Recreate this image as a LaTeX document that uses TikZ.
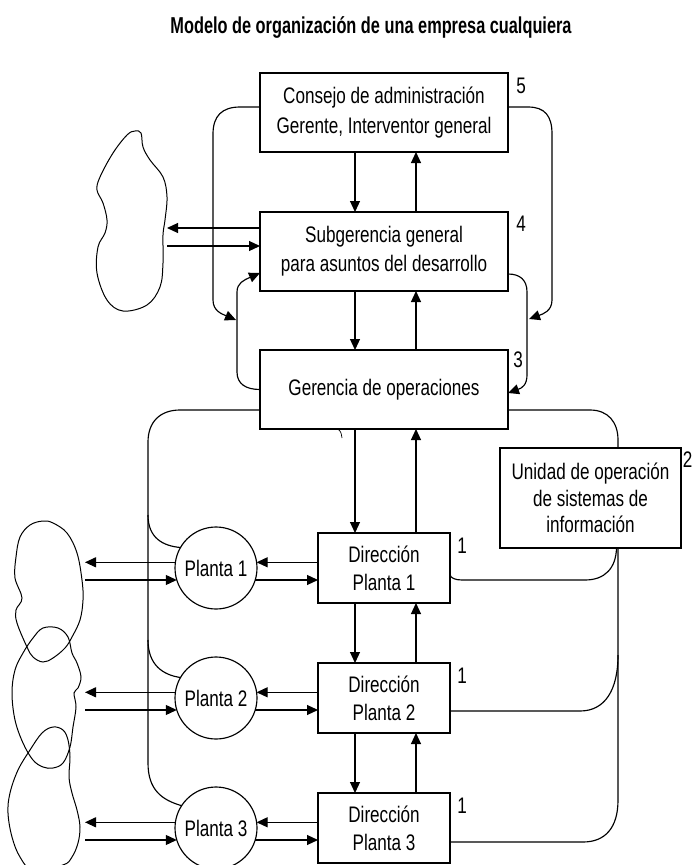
\documentclass[tikz,border=0pt]{standalone}
\usepackage{fontspec}
\setmainfont{Liberation Sans}[FakeStretch=0.76]
\newfontfamily\titlefont{Liberation Sans}[FakeStretch=0.71]
\usetikzlibrary{arrows.meta}
\begin{document}
\begin{tikzpicture}[x=1pt,y=-1pt,line width=1.15pt,
  box/.style={draw,line width=1.15pt,align=center,inner sep=0pt,outer sep=0pt,
    font=\fontsize{22.5}{29}\selectfont},
  bigbox/.style={box,minimum width=248pt,minimum height=79pt},
  dbox/.style={box,minimum width=132pt,minimum height=70pt,font=\fontsize{22.5}{28}\selectfont},
  planta/.style={draw,circle,line width=1.15pt,minimum size=82pt,inner sep=0pt,outer sep=0pt,
    font=\fontsize{22.5}{24}\selectfont},
  lbl/.style={inner sep=0pt,font=\fontsize{22.5}{24}\selectfont},
  arr/.style={-{Triangle[length=11pt,width=10pt]}},
  cloudline/.style={line width=1pt}]
\useasboundingbox (0,0) rectangle (694,865);

% title
\node[inner sep=0pt,anchor=base,font=\titlefont\bfseries\fontsize{23}{26}\selectfont] (title) at (371,33.3)
  {Modelo de organización de una empresa cualquiera};

% main boxes
\node[bigbox,font=\fontsize{22.5}{30}\selectfont] (b5) at (384,112.5) {Consejo de administración\\Gerente, Interventor general};
\node[bigbox] (b4) at (384,251.5) {Subgerencia general\\para asuntos del desarrollo};
\node[bigbox] (b3) at (384,389.5) {Gerencia de operaciones};
\node[box,minimum width=181pt,minimum height=100pt,font=\fontsize{22.5}{26.5}\selectfont]
  (bu) at (590.5,498) {Unidad de operación\\de sistemas de\\información};
\node[dbox] (d1) at (384,568) {Dirección\\Planta 1};
\node[dbox] (d2) at (384,698) {Dirección\\Planta 2};
\node[dbox] (d3) at (384,828) {Dirección\\Planta 3};
\node[planta] (p1) at (216,568) {Planta 1};
\node[planta] (p2) at (216,698) {Planta 2};
\node[planta] (p3) at (216,828) {Planta 3};

% level numbers
\node[lbl] (n5) at ([xshift=13pt,yshift=-13pt]b5.north east) {5};
\node[lbl] (n4) at ([xshift=13pt,yshift=-12pt]b4.north east) {4};
\node[lbl] (n3) at ([xshift=10pt,yshift=-10pt]b3.north east) {3};
\node[lbl] (n2) at ([xshift=6.5pt,yshift=-12pt]bu.north east) {2};
\node[lbl] (n1a) at ([xshift=12pt,yshift=-13pt]d1.north east) {1};
\node[lbl] (n1b) at ([xshift=12pt,yshift=-13pt]d2.north east) {1};
\node[lbl] (n1c) at ([xshift=12pt,yshift=-13pt]d3.north east) {1};

% vertical arrow pairs
\foreach \u/\l in {b5/b4,b4/b3,b3/d1,d1/d2,d2/d3}{
  \draw[arr] ([xshift=-29pt]\u.south) -- ([xshift=-29pt]\l.north);
  \draw[arr] ([xshift=32pt]\l.north) -- ([xshift=32pt]\u.south);
}

% upper cloud
\draw[cloudline] plot[smooth cycle,tension=0.6] coordinates {
  (135,131) (141,133) (143,147) (150,160) (163,177) (167,197) (165,220) (163,235)
  (163,263) (160,287) (147,305) (123,311) (107,300) (97,273) (98,247) (105,233)
  (107,220) (103,203) (97,190) (100,177) (113,153) (127,135)};
\coordinate (c1a) at (167,228);
\coordinate (c1b) at (167,246);
\draw[arr] (b4.west |- c1a) -- (c1a);
\draw[arr] (c1b) -- (b4.west |- c1b);

% lower clouds
\draw[cloudline] plot[smooth cycle,tension=0.6] coordinates {
  (43,521) (53,523) (67,533) (77,553) (82,580) (83,600) (80,620) (72,637) (65,648)
  (53,658) (43,662) (33,657) (27,647) (17,623) (16,610) (22,598) (15,578) (16,557)
  (20,537) (30,525)};
\draw[cloudline] plot[smooth cycle,tension=0.6] coordinates {
  (43,628) (58,628) (68,637) (72,653) (77,663) (81,677) (78,688) (74,693) (76,707)
  (73,727) (70,747) (63,763) (53,768) (43,767) (33,760) (23,743) (15,720) (12,693)
  (15,670) (23,653) (33,638)};
\draw[cloudline] plot[smooth cycle,tension=0.6] coordinates {
  (53,727) (63,730) (68,740) (70,757) (69,777) (72,793) (77,810) (80,827) (78,843)
  (72,857) (63,865) (33,870) (20,857) (12,837) (8,813) (10,793) (18,770) (30,750)
  (42,733)};

% left loops between levels 5-4-3
\coordinate (la) at (236,320);
\draw[arr] ([yshift=5.5pt]b5.west) -- (240,107) .. controls (222,107) and (213,116) .. (213,134)
  -- (213,300) .. controls (213,311) and (222,314) .. (la);
\draw[arr] (b3.west) .. controls (246,389.5) and (237,384) .. (237,372) -- (237,292)
  .. controls (237,283) and (244,280) .. ([yshift=-21.5pt]b4.west);
% right loops
\coordinate (ra) at (529,319);
\draw[arr] ([yshift=5.5pt]b5.east) -- (528,107) .. controls (545,107) and (552,116) .. (552,134)
  -- (552,300) .. controls (552,311) and (543,314) .. (ra);
\draw[arr] ([yshift=-22.5pt]b4.east) .. controls (520,274) and (527,280) .. (527,292)
  -- (527,375) .. controls (527,385) and (522,388) .. ([yshift=-3.5pt]b3.east);

% small stray stroke under Gerencia
\draw[line width=0.7pt] ([xshift=-46pt]b3.south) .. controls (341,432) .. (342,438);

% left trunk to plants
\coordinate (t1) at (148,515);
\coordinate (t2) at (148,640);
\draw ([yshift=-20.5pt]b3.west) -- (180,410) .. controls (160,410) and (148,422) .. (148,442)
  -- (148,763) .. controls (148,790) and (162,800) .. (p3.147);
\draw (t1) .. controls (148,538) and (163,546) .. (p1.150);
\draw (t2) .. controls (148,665) and (163,675) .. (p2.150);

% Gerencia to Unidad
\draw ([yshift=-20.5pt]b3.east) -- (590,410) .. controls (608,410) and (618,422) .. (618,440)
  -- ([xshift=27.5pt]bu.north);

% Unidad to direcciones
\coordinate (t3) at (618,655);
\draw ([xshift=27.5pt]bu.south) -- (618,800) .. controls (618,828) and (605,842) .. (583,842)
  -- ([yshift=-14pt]d3.east);
\draw (t3) .. controls (618,690) and (605,711) .. (580,711) -- ([yshift=-13pt]d2.east);
\draw ([xshift=26pt]bu.south) .. controls (616,568) and (605,580) .. (585,580) -- (462,580)
  .. controls (455,580) and (451,578) .. ([yshift=-7pt]d1.east);

% direcciones <-> plantas, plantas <-> clouds
\coordinate (cx) at (85,0);
\foreach \d/\p in {d1/p1,d2/p2,d3/p3}{
  \draw[arr] (\d.west |- \p.8) -- (\p.8);
  \draw[arr] (\p.-17) -- (\d.west |- \p.-17);
  \draw[arr] (\p.172) -- (\p.172 -| cx);
  \draw[arr] (\p.197 -| cx) -- (\p.197);
}
\end{tikzpicture}
\end{document}
